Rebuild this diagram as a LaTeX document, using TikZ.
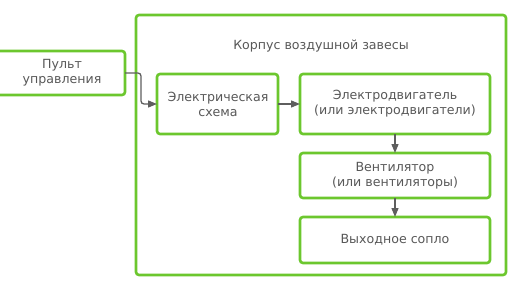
\documentclass[tikz,border=0pt]{standalone}
\usepackage{fontspec}
\setmainfont{DejaVu Sans}
\usetikzlibrary{arrows.meta}
\definecolor{grn}{HTML}{6CC72E}
\definecolor{txt}{HTML}{585858}
\definecolor{arr}{HTML}{5E5E5E}
\begin{document}
\begin{tikzpicture}[x=1pt,y=-1pt,
  box/.style={draw=grn,line width=2.6pt,rounded corners=3pt,fill=white},
  lbl/.style={text=txt,font=\fontsize{12.6}{15}\selectfont,align=center},
  link/.style={draw=arr,line width=1.3pt,-{Triangle[length=9pt,width=7pt]}}]
\useasboundingbox (0,0) rectangle (516,289);
\draw[box] (136,15) rectangle (506,275);
\node[lbl] (title) at (321,46) {Корпус воздушной завесы};
\draw[box] (-5,51) rectangle (125,95);
\node[lbl] (pult) at (62,73) {Пульт\\управления};
\coordinate (pr) at (125,73);
\draw[box] (157,74) rectangle (278,134);
\node[lbl] (el) at (218,104) {Электрическая\\схема};
\coordinate (ell) at (157,104);
\coordinate (elr) at (278,104);
\draw[box] (300,74) rectangle (490,134);
\node[lbl] (mot) at (395,104) {Электродвигатель\\(или электродвигатели)};
\coordinate (motl) at (300,104);
\coordinate (motb) at (395,134);
\draw[box] (300,153) rectangle (490,198);
\node[lbl] (fan) at (395,175.5) {Вентилятор\\(или вентиляторы)};
\coordinate (fant) at (395,153);
\coordinate (fanb) at (395,198);
\draw[box] (300,217) rectangle (490,263);
\node[lbl] (noz) at (395,240) {Выходное сопло};
\coordinate (nozt) at (395,217);
\draw[link,rounded corners=3pt] (pr) -- (141,73) -- (141,104) -- (ell);
\draw[link] (elr) -- (motl);
\draw[link] (motb) -- (fant);
\draw[link] (fanb) -- (nozt);
\end{tikzpicture}
\end{document}
